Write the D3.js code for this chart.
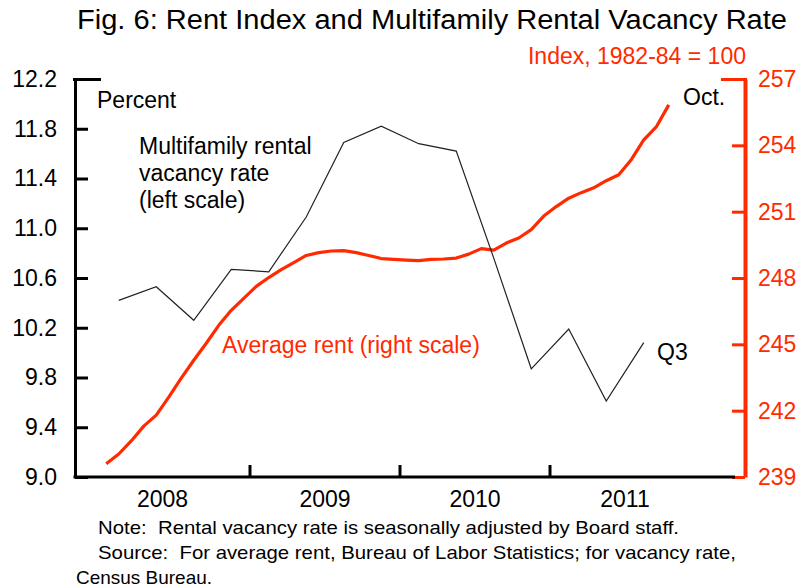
<!DOCTYPE html>
<html>
<head>
<meta charset="utf-8">
<script src="https://cdn.jsdelivr.net/npm/d3@7"></script>
<style>
  html, body { margin: 0; padding: 0; background: #fff; }
  svg { display: block; font-family: "Liberation Sans", Arial, sans-serif; }
</style>
</head>
<body>
<svg id="chart" width="802" height="588"></svg>
<script>
/* Fig. 6 — rent index vs multifamily vacancy rate */

// quarterly multifamily rental vacancy rate, percent (2008Q1 .. 2011Q3)
const vacancyQuarters = ["2008Q1","2008Q2","2008Q3","2008Q4","2009Q1","2009Q2","2009Q3","2009Q4",
  "2010Q1","2010Q2","2010Q3","2010Q4","2011Q1","2011Q2","2011Q3"];
const vacancyRate = [10.42, 10.53, 10.26, 10.67, 10.65, 11.09, 11.69, 11.82,
  11.68, 11.62, 10.76, 9.87, 10.19, 9.61, 10.08];

// monthly average rent index, 1982-84 = 100 (Jan 2008 .. Oct 2011)
const rentStart = "2008-01";
const rentIndex = [
  239.60, 240.04, 240.63, 241.30, 241.80, 242.61, 243.47, 244.28, 245.05, 245.86, 246.54, 247.08,
  247.62, 248.02, 248.38, 248.70, 249.02, 249.15, 249.22, 249.24, 249.15, 249.02, 248.88, 248.84,
  248.81, 248.79, 248.84, 248.86, 248.90, 249.08, 249.33, 249.26, 249.58, 249.81, 250.19, 250.80,
  251.23, 251.61, 251.86, 252.08, 252.40, 252.67, 253.35, 254.25, 254.83, 255.83
];

const years = [2008, 2009, 2010, 2011];
const leftTicks = [9.0, 9.4, 9.8, 10.2, 10.6, 11.0, 11.4, 11.8, 12.2];
const rightTicks = [239, 242, 245, 248, 251, 254, 257];

(function () {
  const RED = "#ff2a00";
  const X0 = 75, X1 = 745, Y0 = 477, Y1 = 79;

  const svg = d3.select("#chart");

  const qFrac = (s) => +s.slice(0, 4) + (+s.slice(5) - 0.5) / 4;
  const startY = +rentStart.slice(0, 4), startM = +rentStart.slice(5) - 1;
  const mFrac = (i) => startY + (startM + i + 0.5) / 12;

  // decimal-year time axis
  const x = d3.scaleLinear().domain([2007 + 10 / 12, 2012.3]).range([X0, X1]);
  const yL = d3.scaleLinear().domain([9.0, 12.2]).range([Y0, Y1]);
  const yR = d3.scaleLinear().domain([239, 257]).range([Y0, Y1]);

  // title
  svg.append("text")
    .attr("x", 77).attr("y", 29)
    .attr("font-size", 27)
    .attr("textLength", 710).attr("lengthAdjust", "spacingAndGlyphs")
    .text("Fig. 6: Rent Index and Multifamily Rental Vacancy Rate");

  svg.append("text")
    .attr("x", 746).attr("y", 64)
    .attr("text-anchor", "end")
    .attr("font-size", 23)
    .attr("fill", RED)
    .text("Index, 1982-84 = 100");

  // left axis
  const gL = svg.append("g").attr("transform", `translate(${X0},0)`)
    .call(d3.axisLeft(yL).tickValues(leftTicks).tickFormat(d3.format(".1f"))
      .tickSizeInner(-13).tickSizeOuter(0).tickPadding(18));
  gL.select(".domain").attr("stroke", "#000").attr("stroke-width", 3);
  gL.selectAll(".tick line").attr("stroke", "#000").attr("stroke-width", 3);
  gL.selectAll(".tick").filter((d) => d === 12.2).select("line").attr("x1", -2).attr("x2", 26);
  gL.selectAll(".tick text").attr("font-size", 23).attr("fill", "#000").attr("font-family", null);

  // right axis
  const gR = svg.append("g").attr("transform", `translate(${X1},0)`)
    .call(d3.axisRight(yR).tickValues(rightTicks).tickFormat(d3.format("d"))
      .tickSizeInner(-13).tickSizeOuter(0).tickPadding(13));
  gR.select(".domain").attr("stroke", RED).attr("stroke-width", 4);
  gR.selectAll(".tick line").attr("stroke", RED).attr("stroke-width", 3);
  gR.selectAll(".tick").filter((d) => d === 257).select("line").attr("x1", 2).attr("x2", -24);
  gR.selectAll(".tick text").attr("font-size", 23).attr("fill", RED).attr("font-family", null);

  // bottom axis: year boundaries, labels centred on the visible part of each year
  const gB = svg.append("g").attr("transform", `translate(0,${Y0})`);
  gB.append("line").attr("x1", X0 - 1.5).attr("x2", X1 - 10).attr("stroke", "#000").attr("stroke-width", 3);
  gB.selectAll("line.yt").data(years.slice(1)).join("line").attr("class", "yt")
    .attr("x1", (d) => x(d)).attr("x2", (d) => x(d))
    .attr("y1", 0).attr("y2", -12)
    .attr("stroke", "#000").attr("stroke-width", 3);
  gB.selectAll("text").data(years).join("text")
    .attr("x", (d, i) => (x(i === 0 ? x.domain()[0] : d) + x(d + 1)) / 2)
    .attr("y", 30)
    .attr("text-anchor", "middle")
    .attr("font-size", 23)
    .text((d) => d);

  // series
  const vac = vacancyQuarters.map((q, i) => ({ t: qFrac(q), v: vacancyRate[i] }));
  const rent = rentIndex.map((v, i) => ({ t: mFrac(i), v }));

  svg.append("path").datum(rent)
    .attr("fill", "none").attr("stroke", RED).attr("stroke-width", 3.2)
    .attr("stroke-linejoin", "round")
    .attr("d", d3.line().x((d) => x(d.t)).y((d) => yR(d.v)));

  svg.append("path").datum(vac)
    .attr("fill", "none").attr("stroke", "#222").attr("stroke-width", 1.2)
    .attr("d", d3.line().x((d) => x(d.t)).y((d) => yL(d.v)));

  // annotations
  const note = (tx, ty, s, fill, size) =>
    svg.append("text").attr("x", tx).attr("y", ty).attr("font-size", size || 23)
      .attr("fill", fill || "#000").text(s);

  note(97, 108, "Percent");
  note(139, 154, "Multifamily rental");
  note(139, 181, "vacancy rate");
  note(139, 208, "(left scale)");
  note(222, 353, "Average rent (right scale)", RED);
  note(657, 360, "Q3");
  note(683, 105, "Oct.");

  svg.append("text").attr("x", 98).attr("y", 534).attr("font-size", 19)
    .attr("textLength", 581).attr("lengthAdjust", "spacingAndGlyphs")
    .attr("xml:space", "preserve")
    .text("Note:  Rental vacancy rate is seasonally adjusted by Board staff.");
  svg.append("text").attr("x", 98).attr("y", 559).attr("font-size", 19)
    .attr("textLength", 638).attr("lengthAdjust", "spacingAndGlyphs")
    .attr("xml:space", "preserve")
    .text("Source:  For average rent, Bureau of Labor Statistics; for vacancy rate,");
  svg.append("text").attr("x", 76).attr("y", 584).attr("font-size", 19)
    .attr("textLength", 136).attr("lengthAdjust", "spacingAndGlyphs")
    .text("Census Bureau.");
})();
</script>
</body>
</html>
